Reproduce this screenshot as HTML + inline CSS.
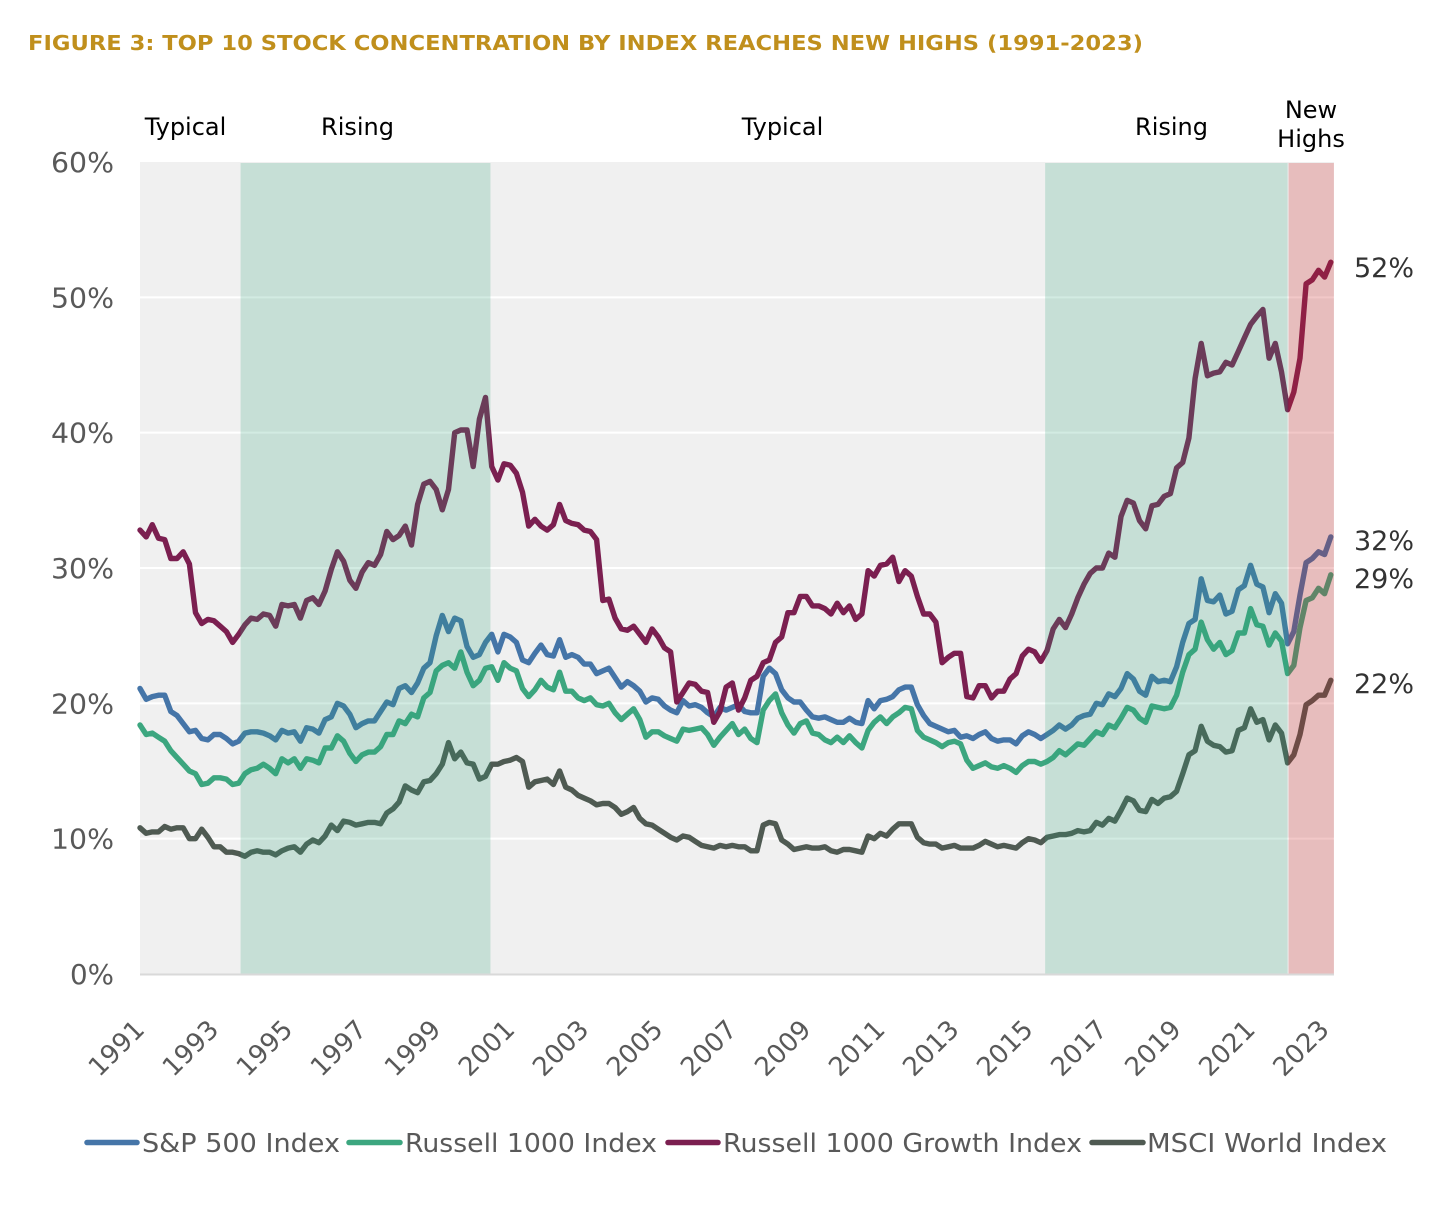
<!DOCTYPE html>
<html lang="en">
<head>
<meta charset="utf-8">
<title>Top 10 Stock Concentration by Index</title>
<style>
html,body{margin:0;padding:0;background:#fff;}
svg{display:block;}
text{font-family:"DejaVu Sans","Liberation Sans",sans-serif;}
</style>
</head>
<body>
<svg id="chart" width="1456" height="1209" viewBox="0 0 1456 1209" xmlns="http://www.w3.org/2000/svg">
  <rect width="1456" height="1209" fill="#ffffff"/>
  <text x="28" y="50" font-size="20.5" font-weight="700" fill="#c08f1c" textLength="1115" lengthAdjust="spacingAndGlyphs">FIGURE 3: TOP 10 STOCK CONCENTRATION BY INDEX REACHES NEW HIGHS (1991-2023)</text>
  <rect x="140" y="162" width="1194" height="812" fill="#f0f0f0"/>
  <g id="grid"></g>
  <g id="series"></g>
  <g id="bands"></g>
  <line x1="140" x2="1334" y1="974.5" y2="974.5" stroke="#d9d9d9" stroke-width="2"/>
  <g id="ylabels"></g>
  <g id="xlabels"></g>
  <g id="endlabels"></g>
  <g id="regimes"></g>

  <g font-size="26" fill="#595959">
    <line x1="87" x2="137" y1="1142.5" y2="1142.5" stroke="#4575a8" stroke-width="5.5" stroke-linecap="round"/>
    <text x="142" y="1152" textLength="198" lengthAdjust="spacingAndGlyphs">S&amp;P 500 Index</text>
    <line x1="349" x2="400" y1="1142.5" y2="1142.5" stroke="#3ca67f" stroke-width="5.5" stroke-linecap="round"/>
    <text x="405" y="1152" textLength="252" lengthAdjust="spacingAndGlyphs">Russell 1000 Index</text>
    <line x1="668" x2="718" y1="1142.5" y2="1142.5" stroke="#7b1f50" stroke-width="5.5" stroke-linecap="round"/>
    <text x="723" y="1152" textLength="359" lengthAdjust="spacingAndGlyphs">Russell 1000 Growth Index</text>
    <line x1="1092" x2="1143" y1="1142.5" y2="1142.5" stroke="#4f5a52" stroke-width="5.5" stroke-linecap="round"/>
    <text x="1147" y="1152" textLength="240" lengthAdjust="spacingAndGlyphs">MSCI World Index</text>
  </g>
</svg>
<script>
const stepMonths = 2;
const growthValues = [
32.8,32.3,33.2,32.2,32.1,30.7,30.7,31.2,30.3,26.7,
25.9,26.2,26.1,25.7,25.3,24.5,25.1,25.8,26.3,26.2,
26.6,26.5,25.7,27.3,27.2,27.3,26.3,27.6,27.8,27.3,
28.3,29.9,31.2,30.5,29.1,28.5,29.7,30.4,30.2,31.0,
32.7,32.1,32.4,33.1,31.7,34.7,36.2,36.4,35.8,34.3,
35.8,40.0,40.2,40.2,37.5,41.0,42.6,37.5,36.5,37.7,
37.6,37.0,35.6,33.1,33.6,33.1,32.8,33.2,34.7,33.5,
33.3,33.2,32.8,32.7,32.1,27.6,27.7,26.3,25.5,25.4,
25.7,25.1,24.5,25.5,24.9,24.1,23.8,20.1,20.8,21.5,
21.4,20.9,20.8,18.6,19.4,21.2,21.5,19.5,20.4,21.7,
22.0,23.0,23.2,24.5,24.9,26.7,26.7,27.9,27.9,27.2,
27.2,27.0,26.6,27.4,26.7,27.2,26.2,26.6,29.8,29.4,
30.2,30.3,30.8,29.0,29.8,29.4,27.9,26.6,26.6,26.0,
23.0,23.4,23.7,23.7,20.5,20.4,21.3,21.3,20.4,20.9,
20.9,21.8,22.2,23.5,24.0,23.8,23.1,23.9,25.5,26.2,
25.6,26.6,27.8,28.8,29.6,30.0,30.0,31.1,30.8,33.8,
35.0,34.8,33.5,32.9,34.6,34.7,35.3,35.5,37.4,37.8,
39.6,44.0,46.6,44.2,44.4,44.5,45.2,45.0,46.0,47.0,
48.0,48.6,49.1,45.5,46.6,44.5,41.7,43.0,45.5,51.0,
51.3,52.0,51.5,52.6];
const sp500Values = [
21.1,20.3,20.5,20.6,20.6,19.4,19.1,18.5,17.9,18.0,
17.4,17.3,17.7,17.7,17.4,17.0,17.2,17.8,17.9,17.9,
17.8,17.6,17.3,18.0,17.8,17.9,17.2,18.2,18.1,17.8,
18.8,19.0,20.0,19.8,19.2,18.2,18.5,18.7,18.7,19.4,
20.1,19.9,21.1,21.3,20.8,21.5,22.6,23.0,25.0,26.5,
25.3,26.3,26.1,24.2,23.4,23.6,24.5,25.1,23.8,25.1,
24.9,24.5,23.2,23.0,23.7,24.3,23.6,23.5,24.7,23.4,
23.6,23.4,22.9,22.9,22.2,22.4,22.6,21.9,21.2,21.6,
21.3,20.9,20.1,20.4,20.3,19.8,19.5,19.3,20.2,19.8,
19.9,19.7,19.3,19.0,19.7,19.5,19.7,19.9,19.4,19.3,
19.3,22.0,22.6,22.2,21.0,20.4,20.1,20.1,19.5,19.0,
18.9,19.0,18.8,18.6,18.6,18.9,18.6,18.5,20.2,19.6,
20.2,20.3,20.5,21.0,21.2,21.2,19.9,19.1,18.5,18.3,
18.1,17.9,18.0,17.5,17.6,17.4,17.7,17.9,17.4,17.2,
17.3,17.3,17.0,17.6,17.9,17.7,17.4,17.7,18.0,18.4,
18.1,18.4,18.9,19.1,19.2,20.0,19.9,20.7,20.5,21.1,
22.2,21.8,20.9,20.6,22.0,21.6,21.7,21.6,22.7,24.5,
25.9,26.2,29.2,27.6,27.5,28.0,26.6,26.8,28.4,28.7,
30.2,28.8,28.6,26.7,28.1,27.4,24.4,25.3,28.0,30.4,
30.7,31.2,31.0,32.3];
const russell1000Values = [
18.4,17.7,17.8,17.5,17.2,16.5,16.0,15.5,15.0,14.8,
14.0,14.1,14.5,14.5,14.4,14.0,14.1,14.8,15.1,15.2,
15.5,15.2,14.8,15.9,15.6,15.9,15.2,15.9,15.8,15.6,
16.7,16.7,17.6,17.2,16.3,15.7,16.2,16.4,16.4,16.8,
17.7,17.7,18.7,18.5,19.2,19.0,20.4,20.8,22.4,22.8,
23.0,22.6,23.8,22.3,21.3,21.7,22.6,22.7,21.7,23.0,
22.6,22.4,21.1,20.5,21.0,21.7,21.2,21.0,22.3,20.9,
20.9,20.4,20.2,20.4,19.9,19.8,20.0,19.3,18.8,19.2,
19.6,18.8,17.5,17.9,17.9,17.6,17.4,17.2,18.1,18.0,
18.1,18.2,17.7,16.9,17.5,18.0,18.5,17.7,18.1,17.4,
17.1,19.5,20.2,20.7,19.3,18.4,17.8,18.5,18.7,17.8,
17.7,17.3,17.1,17.5,17.1,17.6,17.1,16.7,18.0,18.6,
19.0,18.5,19.0,19.3,19.7,19.6,18.0,17.5,17.3,17.1,
16.8,17.1,17.2,17.0,15.8,15.2,15.4,15.6,15.3,15.2,
15.4,15.2,14.9,15.4,15.7,15.7,15.5,15.7,16.0,16.5,
16.2,16.6,17.0,16.9,17.4,17.9,17.7,18.4,18.2,18.9,
19.7,19.5,18.9,18.6,19.8,19.7,19.6,19.7,20.6,22.3,
23.6,24.0,26.0,24.7,24.0,24.5,23.6,23.9,25.2,25.2,
27.0,25.8,25.7,24.3,25.2,24.6,22.2,22.8,25.6,27.6,
27.8,28.5,28.1,29.5];
const msciValues = [
10.8,10.4,10.5,10.5,10.9,10.7,10.8,10.8,10.0,10.0,
10.7,10.1,9.4,9.4,9.0,9.0,8.9,8.7,9.0,9.1,
9.0,9.0,8.8,9.1,9.3,9.4,9.0,9.6,9.9,9.7,
10.2,11.0,10.6,11.3,11.2,11.0,11.1,11.2,11.2,11.1,
11.9,12.2,12.7,13.9,13.6,13.4,14.2,14.3,14.8,15.5,
17.1,15.9,16.4,15.6,15.5,14.4,14.6,15.5,15.5,15.7,
15.8,16.0,15.7,13.8,14.2,14.3,14.4,14.0,15.0,13.8,
13.6,13.2,13.0,12.8,12.5,12.6,12.6,12.3,11.8,12.0,
12.3,11.5,11.1,11.0,10.7,10.4,10.1,9.9,10.2,10.1,
9.8,9.5,9.4,9.3,9.5,9.4,9.5,9.4,9.4,9.1,
9.1,11.0,11.2,11.1,9.9,9.6,9.2,9.3,9.4,9.3,
9.3,9.4,9.1,9.0,9.2,9.2,9.1,9.0,10.2,10.0,
10.4,10.2,10.7,11.1,11.1,11.1,10.1,9.7,9.6,9.6,
9.3,9.4,9.5,9.3,9.3,9.3,9.5,9.8,9.6,9.4,
9.5,9.4,9.3,9.7,10.0,9.9,9.7,10.1,10.2,10.3,
10.3,10.4,10.6,10.5,10.6,11.2,11.0,11.5,11.3,12.1,
13.0,12.8,12.1,12.0,12.9,12.6,13.0,13.1,13.5,14.8,
16.2,16.5,18.3,17.2,16.9,16.8,16.4,16.5,18.0,18.2,
19.6,18.6,18.8,17.3,18.4,17.8,15.6,16.2,17.7,19.9,
20.2,20.6,20.6,21.7];
const yTicks = [0,10,20,30,40,50,60];
const yearLabels = ['1991','1993','1995','1997','1999','2001','2003','2005','2007','2009','2011','2013','2015','2017','2019','2021','2023'];
const bandStartMonths = [32.6,293.4,372.3];
const bandEndMonths = [113.6,372.0,387];
const endValues = [52,32,29,22];
const endLabelY = [267,540,578,683];

const SVG_NS = 'http://www.w3.org/2000/svg';
const xScale = function (month) { return 140 + month * 3.085; };
const yScale = function (value) { return 974 - value * 13.533; };

function make(tag, attrs, parent) {
  const el = document.createElementNS(SVG_NS, tag);
  for (const k in attrs) el.setAttribute(k, attrs[k]);
  parent.appendChild(el);
  return el;
}

// gridlines and y labels
const gridG = document.getElementById('grid');
const yG = document.getElementById('ylabels');
yTicks.forEach(function (t) {
  if (t > 0 && t < 60) {
    const gl = make('line', {x1: 140, x2: 1334, y1: yScale(t), y2: yScale(t), stroke: '#ffffff', 'stroke-width': 2}, gridG);
    
    
  }
  const lab = make('text', {x: 114, y: yScale(t) + 10, 'text-anchor': 'end', 'font-size': 28, fill: '#595959', textLength: 63, lengthAdjust: 'spacingAndGlyphs'}, yG);
  lab.textContent = t + '%';
  if (t < 10) {
    lab.setAttribute('textLength', 44);
  }
  
  
});

// series lines
const seriesG = document.getElementById('series');
function drawSeries(values, color, name) {
  const pts = values.map(function (v, i) {
    return xScale(i * stepMonths).toFixed(1) + ',' + yScale(v).toFixed(1);
  }).join(' ');
  const line = make('polyline', {points: pts, fill: 'none', stroke: color, 'stroke-width': 5.4, 'stroke-linejoin': 'round', 'stroke-linecap': 'round'}, seriesG);
  
  
}
drawSeries(sp500Values, '#4575a8', 'line-sp500');
drawSeries(russell1000Values, '#3ca67f', 'line-russell-1000');
drawSeries(growthValues, '#7b1f50', 'line-russell-growth');
drawSeries(msciValues, '#4f5a52', 'line-msci-world');

// translucent regime bands painted over the lines
const bandsG = document.getElementById('bands');
const bandFills = ['rgba(52,166,122,0.22)','rgba(52,166,122,0.22)','rgba(203,35,35,0.25)'];
bandStartMonths.forEach(function (s, i) {
  const x0 = xScale(s);
  const x1 = xScale(bandEndMonths[i]);
  const r = make('rect', {x: x0, y: 163, width: x1 - x0, height: 811, fill: bandFills[i]}, bandsG);
  
  
});

// x labels
const xG = document.getElementById('xlabels');
yearLabels.forEach(function (label, i) {
  const ax = xScale(i * 24) + 6;
  const t = make('text', {x: ax, y: 1031, 'text-anchor': 'end', 'font-size': 26, fill: '#595959', transform: 'rotate(-45 ' + ax + ' 1031)'}, xG);
  t.textContent = label;
  
  
});

// end value labels
const endG = document.getElementById('endlabels');
endValues.forEach(function (v, i) {
  const t = make('text', {x: 1354, y: endLabelY[i] + 10, 'font-size': 27, fill: '#333333'}, endG);
  t.textContent = v + '%';
  
  
});

// regime labels
const regimeText = ['Typical','Rising','Typical','Rising','New','Highs'];
const regimeCenter = [185.5,357.5,782.5,1171.5,1311,1311];
const regimeBase = [135,135,135,135,118,147];
const regG = document.getElementById('regimes');
regimeText.forEach(function (s, i) {
  const t = make('text', {x: regimeCenter[i], y: regimeBase[i], 'text-anchor': 'middle', 'font-size': 24, fill: '#000000'}, regG);
  t.textContent = s;
  
  
});
</script>
</body>
</html>
